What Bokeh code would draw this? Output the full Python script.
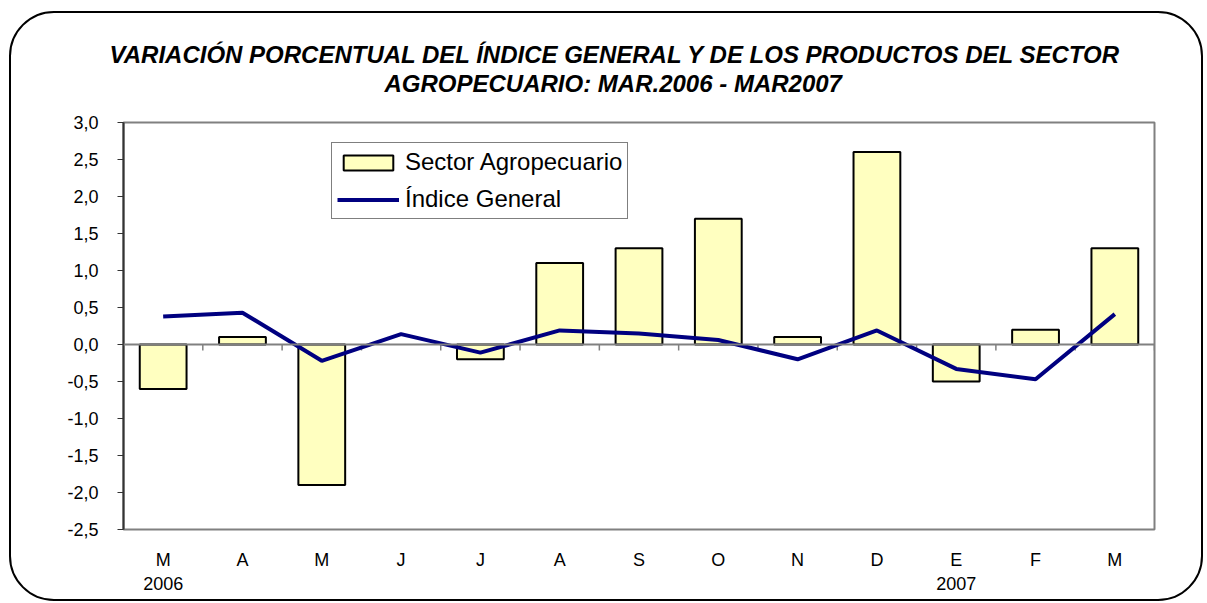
from bokeh.plotting import figure
from bokeh.models import (ColumnDataSource, FixedTicker, Title, Legend, LegendItem, Span)
from bokeh.embed import file_html
from bokeh.resources import INLINE

# ---- data ----
months = ["M", "A", "M", "J", "J", "A", "S", "O", "N", "D", "E", "F", "M"]
years = {0: "2006", 10: "2007"}
sector_agro = [-0.6, 0.1, -1.9, 0.0, -0.2, 1.1, 1.3, 1.7, 0.1, 2.6, -0.5, 0.2, 1.3]
indice_general = [0.38, 0.43, -0.22, 0.14, -0.11, 0.19, 0.15, 0.06, -0.20, 0.19, -0.33, -0.47, 0.41]
y_ticks = [-2.5, -2.0, -1.5, -1.0, -0.5, 0.0, 0.5, 1.0, 1.5, 2.0, 2.5, 3.0]
y_tick_labels = ["-2,5", "-2,0", "-1,5", "-1,0", "-0,5", "0,0", "0,5", "1,0", "1,5", "2,0", "2,5", "3,0"]
title_lines = ["VARIACIÓN PORCENTUAL DEL ÍNDICE GENERAL Y DE LOS PRODUCTOS DEL SECTOR",
               "AGROPECUARIO: MAR.2006 - MAR2007"]

FONT = "Liberation Sans"
W, H = 1194, 590
ML, MR, MT, MB = 112, 51, 109, 74
frame_h = H - MT - MB
y_lo, y_hi = -2.5, 3.0
px_per_unit = frame_h / (y_hi - y_lo)

idx = list(range(len(months)))
bar_src = ColumnDataSource(dict(
    x=[i for i, v in zip(idx, sector_agro) if v != 0],
    top=[v for v in sector_agro if v != 0]))
line_src = ColumnDataSource(dict(x=idx, y=indice_general))

p = figure(width=W, height=H, output_backend="svg", toolbar_location=None,
           x_range=(-0.5, len(months) - 0.5), y_range=(y_lo, y_hi))
p.title.visible = False
p.min_border_left = ML
p.min_border_right = MR
p.min_border_top = MT
p.min_border_bottom = MB
p.border_fill_color = None
p.background_fill_color = "white"
p.outline_line_color = "#808080"
p.outline_line_width = 2
p.grid.visible = False
p.styles = {"border": "2px solid black", "border-radius": "45px",
            "margin-left": "9px", "margin-top": "11px"}

# zero line and category boundary ticks
p.add_layout(Span(location=0, dimension="width", line_color="#808080", line_width=2))
bx = [i + 0.5 for i in idx]
tick_len = 6 / px_per_unit
p.segment(x0=bx, x1=bx, y0=[0] * len(bx), y1=[-tick_len] * len(bx),
          line_color="#808080", line_width=1.5)

bars = p.vbar(x="x", top="top", bottom=0, width=0.59, source=bar_src,
              fill_color="#FFFFC0", line_color="black", line_width=2)
ln = p.line(x="x", y="y", source=line_src, line_color="#000080", line_width=4)

# axes
xa = p.xaxis[0]
xa.ticker = FixedTicker(ticks=idx)
xa.major_label_overrides = {i: (m + ("\n" + years[i] if i in years else "")) for i, m in enumerate(months)}
xa.axis_line_color = None
xa.major_tick_line_color = None
xa.minor_tick_line_color = None
xa.major_tick_out = 0
xa.major_label_standoff = 20
xa.major_label_text_font = FONT
xa.major_label_text_font_size = "18px"
xa.major_label_text_color = "black"

ya = p.yaxis[0]
ya.ticker = FixedTicker(ticks=y_ticks)
ya.major_label_overrides = {t: l for t, l in zip(y_ticks, y_tick_labels)}
ya.axis_line_color = "#333333"
ya.axis_line_width = 2
ya.major_tick_line_color = "#333333"
ya.major_tick_line_width = 1
ya.major_tick_out = 6
ya.major_tick_in = 0
ya.minor_tick_line_color = None
ya.major_label_standoff = 19
ya.major_label_text_font = FONT
ya.major_label_text_font_size = "18px"
ya.major_label_text_color = "black"

# legend
legend = Legend(items=[LegendItem(label="Sector Agropecuario", renderers=[bars]),
                       LegendItem(label="Índice General", renderers=[ln])],
                location=(208, 310), orientation="vertical")
legend.label_text_font = FONT
legend.label_text_font_size = "24px"
legend.label_text_color = "black"
legend.glyph_width = 62
legend.glyph_height = 19
legend.spacing = 9
legend.padding = 5
legend.margin = 0
legend.label_standoff = 6
legend.border_line_color = "black"
legend.border_line_width = 1
legend.background_fill_color = "white"
legend.background_fill_alpha = 1
p.add_layout(legend, "center")

# title: two lines centred at the reference's centre (closest line added first)
t2 = Title(text=title_lines[1], align="left", offset=261, text_font=FONT, text_font_size="24px",
           text_font_style="bold italic", text_color="black", standoff=52)
t1 = Title(text=title_lines[0], align="left", offset=-14, text_font=FONT, text_font_size="24px",
           text_font_style="bold italic", text_color="black", standoff=-52)
p.add_layout(t2, "above")
p.add_layout(t1, "above")

open("out.html", "w").write(file_html(p, INLINE))
